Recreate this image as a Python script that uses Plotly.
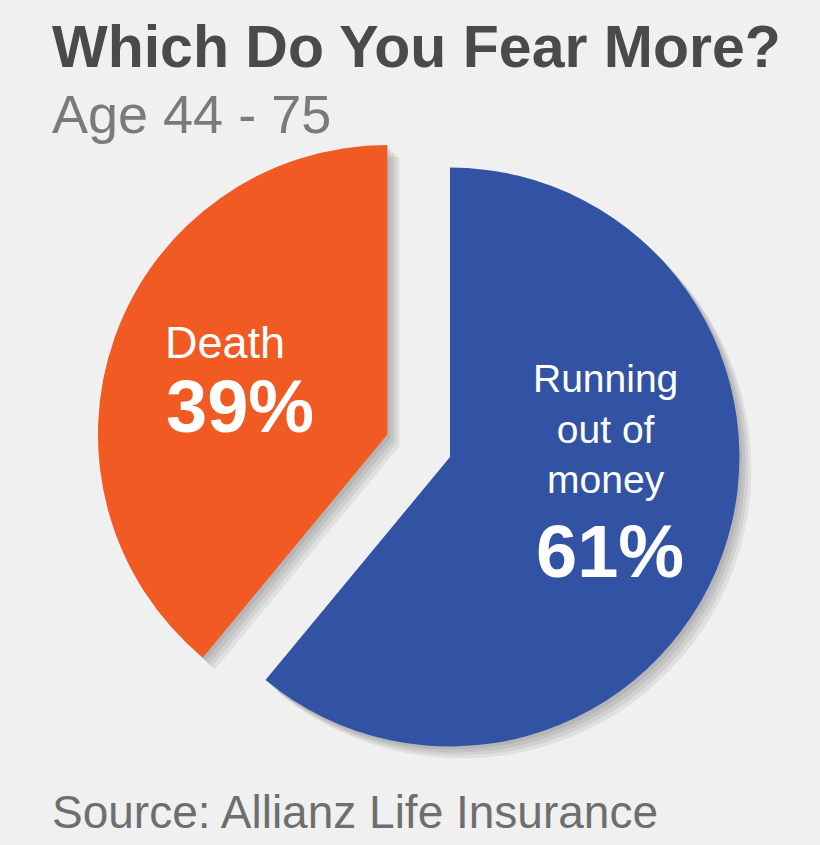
import plotly.graph_objects as go

# ---- data ----
labels = ["Running out of money", "Death"]
values = [61, 39]
pct_text = ["61%", "39%"]
label_text = ["Running<br>out of<br>money", "Death"]
colors = ["#3253A4", "#F15A22"]
pulls = [0, 0.23]

title = "Which Do You Fear More?"
subtitle = "Age 44 - 75"
source = "Source: Allianz Life Insurance"

W, H = 820, 845
BG = "#F0F0F0"

# pie placement (pixels)
cx, cy, half = 450, 457, 356


def dom(dx=0, dy=0):
    return dict(
        x=[(cx - half + dx) / W, (cx + half + dx) / W],
        y=[1 - (cy + half + dy) / H, 1 - (cy - half + dy) / H],
    )


fig = go.Figure()

# soft drop shadow (layered translucent copies)
for k in [3, 6, 9, 12]:
    fig.add_trace(go.Pie(
        labels=labels, values=values, pull=pulls, sort=False,
        direction="clockwise", rotation=0,
        marker=dict(colors=["rgba(0,0,0,0.065)"] * 2, line=dict(width=0)),
        textinfo="none", hoverinfo="skip", showlegend=False,
        domain=dom(k, k),
    ))

fig.add_trace(go.Pie(
    labels=labels, values=values, pull=pulls, sort=False,
    direction="clockwise", rotation=0,
    marker=dict(colors=colors, line=dict(width=0)),
    textinfo="none", showlegend=False,
    domain=dom(),
))


def px(x, y):
    return x / W, 1 - y / H


ann = []


def add_text(x, y, text, size, color, bold=False, xanchor="center"):
    ax, ay = px(x, y)
    ann.append(dict(
        x=ax, y=ay, xref="paper", yref="paper", xanchor=xanchor, yanchor="middle",
        text=f"<b>{text}</b>" if bold else text, showarrow=False,
        font=dict(family="Liberation Sans, Arial, sans-serif", size=size, color=color),
    ))


add_text(50, 47, title, 59, "#4A4A4A", bold=True, xanchor="left")
add_text(50, 114, subtitle, 54, "#7A7A7A", xanchor="left")
add_text(50, 812, source, 46, "#6E6E6E", xanchor="left")

# slice labels
add_text(225, 343, label_text[1], 45, "white")
add_text(240, 407, pct_text[1], 74, "white", bold=True)
add_text(605, 429, label_text[0], 39, "white")
add_text(610, 551, pct_text[0], 74, "white", bold=True)

fig.update_layout(
    width=W, height=H,
    margin=dict(l=0, r=0, t=0, b=0),
    paper_bgcolor=BG, plot_bgcolor=BG,
    annotations=ann,
)

fig.write_html("out.html")
